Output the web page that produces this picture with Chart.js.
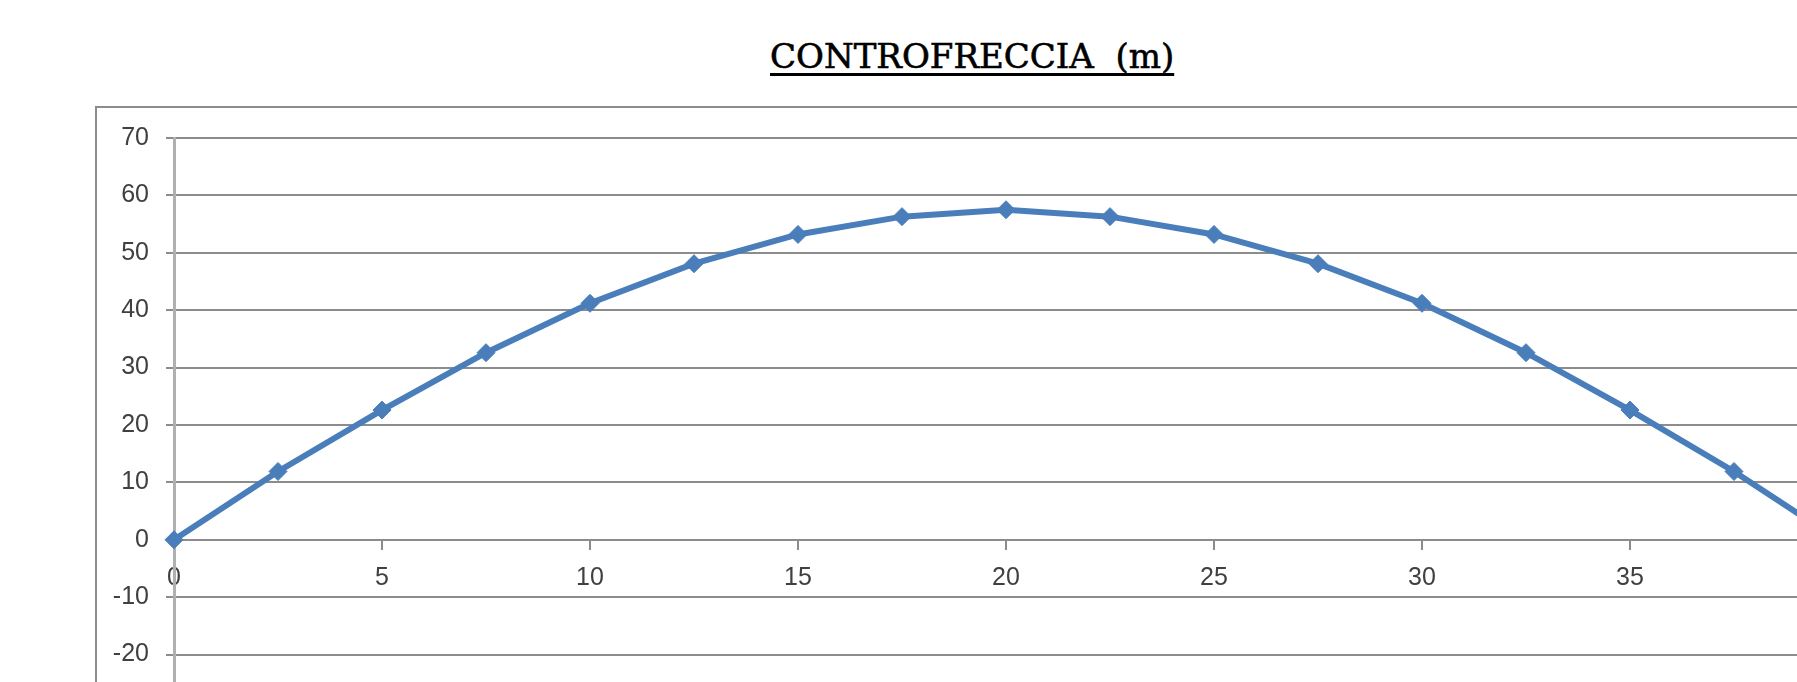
<!DOCTYPE html>
<html>
<head>
<meta charset="utf-8">
<script src="https://cdn.jsdelivr.net/npm/chart.js@4.4.1/dist/chart.umd.min.js"></script>
<style>
  html, body { margin: 0; padding: 0; background: #fff; overflow: hidden; }
  body { width: 1797px; height: 682px; position: relative; }
  #frame {
    position: absolute; left: 95px; top: 106px; width: 1900px; height: 800px;
    border: 2px solid #8c8c8c; box-sizing: border-box;
  }
  #title {
    position: absolute; left: 770px; top: 39px;
    font-family: "DejaVu Serif", serif; font-size: 34px; line-height: 34px;
    color: #000; white-space: pre; -webkit-text-stroke: 0.6px #000;
    text-decoration: underline; text-decoration-thickness: 3px; text-underline-offset: 5px;
  }
  #wrap { position: absolute; left: 0; top: 0; width: 1880px; height: 760px; }
</style>
</head>
<body>
<div id="frame"></div>
<div id="title">CONTROFRECCIA  (m)</div>
<div id="wrap"><canvas id="myChart" width="1880" height="760"></canvas></div>
<script>
// span positions (m) and camber values
const positions = [0, 2.5, 5, 7.5, 10, 12.5, 15, 17.5, 20, 22.5, 25, 27.5, 30, 32.5, 35, 37.5, 40];
const camber = [0, 11.9, 22.6, 32.6, 41.2, 48.1, 53.2, 56.3, 57.5, 56.3, 53.2, 48.1, 41.2, 32.6, 22.6, 11.9, 0];

const yMin = -30, yMax = 70, yStep = 10;
const xMin = 0, xMax = 40, xStep = 5;

const points = positions.map(function (x, i) { return { x: x, y: camber[i] }; });

const tickFont = { family: "'Liberation Sans', Arial, sans-serif", size: 25 };

var ctx = document.getElementById("myChart").getContext('2d');
var myChart = new Chart(ctx, {
    type: 'line',
    data: {
        datasets: [{
            label: "controfreccia",
            data: points,
            borderColor: '#4a7ebb',
            backgroundColor: '#4a7ebb',
            borderWidth: 6,
            pointStyle: 'rectRot',
            pointRadius: 9,
            pointBorderWidth: 1,
            tension: 0,
            clip: false
        }]
    },
    options: {
        responsive: false,
        animation: false,
        devicePixelRatio: 1,
        layout: { padding: { top: 138, right: 42, bottom: 48, left: 0 } },
        plugins: { legend: { display: false }, tooltip: { enabled: false } },
        scales: {
            x: {
                type: 'linear',
                position: { y: 0 },
                min: xMin, max: xMax,
                ticks: { stepSize: xStep, color: '#404040', font: tickFont, padding: 14, maxRotation: 0 },
                grid: { drawOnChartArea: false, drawTicks: true, tickLength: 9, color: '#8c8c8c', lineWidth: 2 },
                border: { color: '#8c8c8c', width: 2 }
            },
            y: {
                min: yMin, max: yMax,
                ticks: { stepSize: yStep, color: '#404040', font: tickFont, padding: 17 },
                grid: { color: '#8c8c8c', lineWidth: 2, tickLength: 8 },
                border: { color: '#b0b0b0', width: 3 },
                afterFit: function (scale) { scale.width = 174; }
            }
        }
    }
});
</script>
</body>
</html>
